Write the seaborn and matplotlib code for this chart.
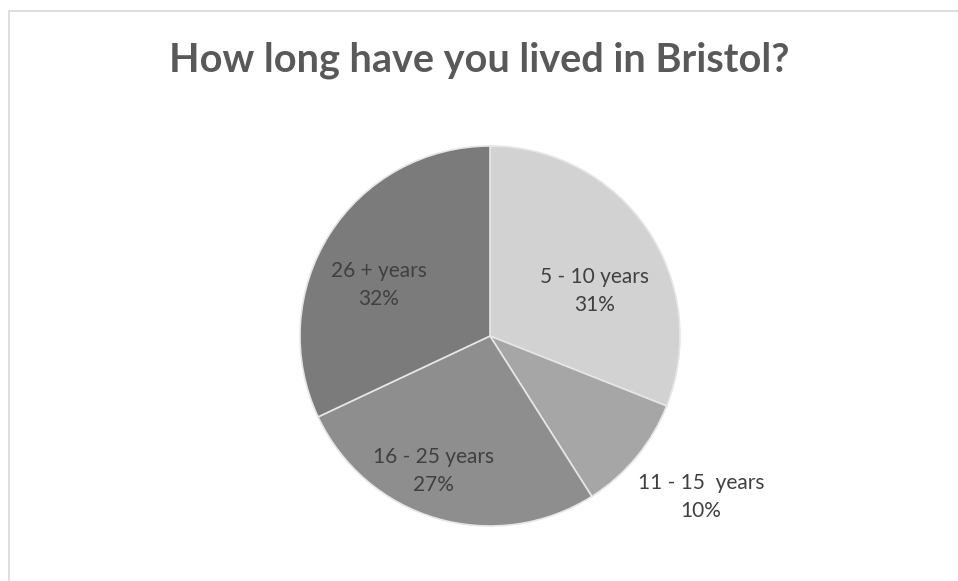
import matplotlib
matplotlib.use('Agg')
import matplotlib.pyplot as plt
import seaborn as sns

# survey answers, clockwise from 12 o'clock
categories = ['5 - 10 years', '11 - 15  years', '16 - 25 years', '26 + years']
shares = [31, 10, 27, 32]

sns.set_theme(style='white')
plt.rcParams['font.family'] = ['Lato', 'DejaVu Sans']

greys = ['#d2d2d2', '#a6a6a6', '#8e8e8e', '#7b7b7b']

fig = plt.figure(figsize=(9.58, 5.81), dpi=100)

# light frame round the chart area
fig.patches.append(plt.Rectangle((9 / 958, -0.01), 1.0, (581 - 11) / 581 + 0.01,
                                 transform=fig.transFigure, fill=False,
                                 edgecolor='#d9d9d9', linewidth=1.2))

fig.text(0.5, 1 - 60 / 581, 'How long have you lived in Bristol?', ha='center', va='center',
         fontsize=28.5, fontweight='bold', color='#595959')

ax = fig.add_axes([(490 - 190) / 958, (581 - 336 - 190) / 581, 380 / 958, 380 / 581])
wedges, _ = ax.pie(shares, colors=greys, startangle=90, counterclock=False,
                   wedgeprops=dict(edgecolor='#e6e6e6', linewidth=1.2))
ax.set_xlim(-1, 1)
ax.set_ylim(-1, 1)
ax.set_aspect('equal')
ax.axis('off')

# label spots (in pie radius units), roughly where the original puts them
spots = [(0.55, 0.237), (1.11, -0.847), (-0.297, -0.708), (-0.584, 0.266)]
for name, val, (x, y) in zip(categories, shares, spots):
    ax.text(x, y, f'{name}\n{val}%', ha='center', va='center', fontsize=15,
            color='#404040', linespacing=1.5, clip_on=False)

fig.savefig('out.png', dpi=100)
